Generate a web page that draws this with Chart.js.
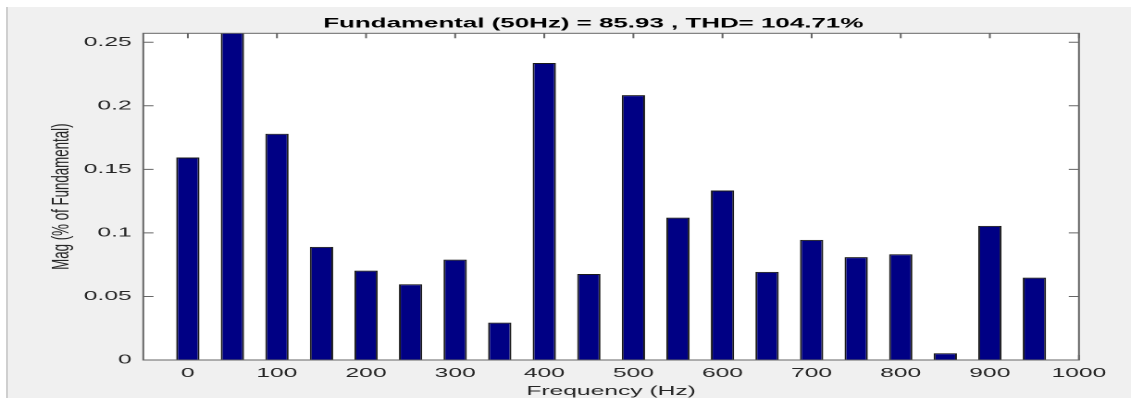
<!DOCTYPE html>
<html>
<head>
<meta charset="utf-8">
<script src="https://cdn.jsdelivr.net/npm/chart.js@4.4.1/dist/chart.umd.min.js"></script>
<style>
  html, body { margin: 0; padding: 0; width: 1131px; height: 398px; overflow: hidden; background: #ffffff; }
  #frame { position: absolute; left: 6px; top: 7px; right: 0; bottom: 0; background: #f0f0f0; border-left: 2px solid #cfcfcf; }
  /* the figure is laid out narrow and stretched horizontally */
  #wrap { position: absolute; left: 0; top: 0; width: 641px; height: 398px; transform: scaleX(1.851); transform-origin: 0 0; }
</style>
</head>
<body>
<div id="frame"></div>
<div id="wrap"><canvas id="fft"></canvas></div>
<script>
// Harmonic spectrum (Hz) and magnitudes
const frequencies = [0, 50, 100, 150, 200, 250, 300, 350, 400, 450, 500, 550, 600, 650, 700, 750, 800, 850, 900, 950];
const magnitudes = [0.1593, 0.26, 0.178, 0.089, 0.0703, 0.0596, 0.079, 0.0294, 0.2336, 0.0677,
                    0.2084, 0.112, 0.1333, 0.0693, 0.0945, 0.0809, 0.0832, 0.0053, 0.1055, 0.0648];

// Axis ticks
const xTickValues = [0, 100, 200, 300, 400, 500, 600, 700, 800, 900, 1000];
const xTickLabels = ['0', '100', '200', '300', '400', '500', '600', '700', '800', '900', '1000'];
const yTickValues = [0, 0.05, 0.1, 0.15, 0.2, 0.25];
const yTickLabels = ['0', '0.05', '0.1', '0.15', '0.2', '0.25'];

const titleText = 'Fundamental (50Hz) = 85.93 , THD= 104.71%';
const xTitle = 'Frequency (Hz)';
const yTitle = 'Mag (% of Fundamental)';

const FONT = '"Liberation Sans", Arial, Helvetica, sans-serif';
const TEXT = '#262626';
const AXIS = '#666666';

// White plot background, inward tick marks and the surrounding box
const axesBox = {
  id: 'axesBox',
  beforeDatasetsDraw(chart) {
    const { ctx, chartArea: a, scales: { x, y } } = chart;
    ctx.save();
    ctx.fillStyle = '#ffffff';
    ctx.fillRect(a.left, a.top, a.right - a.left, a.bottom - a.top);
    ctx.strokeStyle = AXIS;
    ctx.lineWidth = 1;
    ctx.beginPath();
    x.ticks.forEach(t => {
      const px = x.getPixelForValue(t.value);
      ctx.moveTo(px, a.bottom); ctx.lineTo(px, a.bottom - 5);
      ctx.moveTo(px, a.top); ctx.lineTo(px, a.top + 5);
    });
    y.ticks.forEach(t => {
      const py = y.getPixelForValue(t.value);
      ctx.moveTo(a.left, py); ctx.lineTo(a.left + 5.5, py);
      ctx.moveTo(a.right, py); ctx.lineTo(a.right - 5.5, py);
    });
    ctx.stroke();
    ctx.restore();
  },
  afterDatasetsDraw(chart) {
    const { ctx, chartArea: a } = chart;
    ctx.save();
    ctx.strokeStyle = AXIS;
    ctx.lineWidth = 1;
    ctx.strokeRect(a.left, a.top, a.right - a.left, a.bottom - a.top);
    ctx.restore();
  }
};

new Chart(document.getElementById('fft'), {
  type: 'bar',
  data: {
    datasets: [{
      data: frequencies.map((f, i) => ({ x: f, y: magnitudes[i] })),
      backgroundColor: '#000084',
      borderColor: '#1a1a1a',
      borderWidth: 1,
      barPercentage: 0.523,
      categoryPercentage: 1,
      clip: 0
    }]
  },
  options: {
    responsive: true,
    maintainAspectRatio: false,
    devicePixelRatio: 2,
    animation: false,
    layout: { padding: 0 },
    plugins: {
      legend: { display: false },
      tooltip: { enabled: false },
      title: {
        display: true,
        text: titleText,
        color: '#000000',
        font: { family: FONT, size: 14, weight: 'bold', lineHeight: 1.2 },
        padding: { top: 15.05, bottom: 1.45 }
      }
    },
    scales: {
      x: {
        type: 'linear',
        min: -50,
        max: 1000,
        offset: false,
        grid: { display: false, drawTicks: false },
        border: { display: false },
        afterBuildTicks: s => { s.ticks = xTickValues.map(v => ({ value: v })); },
        afterFit: s => { s.height = 38; },
        ticks: {
          color: TEXT,
          padding: 5.4,
          maxRotation: 0,
          autoSkip: false,
          font: { family: FONT, size: 13.3, lineHeight: 1.2 },
          callback: (v, i) => xTickLabels[i]
        },
        title: {
          display: true,
          text: xTitle,
          color: TEXT,
          font: { family: FONT, size: 13.3, lineHeight: 1 },
          padding: 0
        }
      },
      y: {
        position: 'left',
        min: 0,
        max: 0.257,
        grid: { display: false, drawTicks: false },
        border: { display: false },
        afterBuildTicks: s => { s.ticks = yTickValues.map(v => ({ value: v })); },
        afterFit: s => { s.width = 77.4; },
        ticks: {
          color: TEXT,
          padding: 6.25,
          font: { family: FONT, size: 13.3 },
          callback: (v, i) => yTickLabels[i]
        },
        title: {
          display: true,
          text: yTitle,
          color: TEXT,
          font: { family: FONT, size: 13.3, lineHeight: 1 },
          padding: { top: 26.85, bottom: 0 }
        }
      },
      y2: {
        position: 'right',
        min: 0,
        max: 0.257,
        grid: { display: false, drawTicks: false },
        border: { display: false },
        ticks: { display: false },
        afterFit: s => { s.width = 641 - 582.9; }
      }
    }
  },
  plugins: [axesBox]
});
</script>
</body>
</html>
